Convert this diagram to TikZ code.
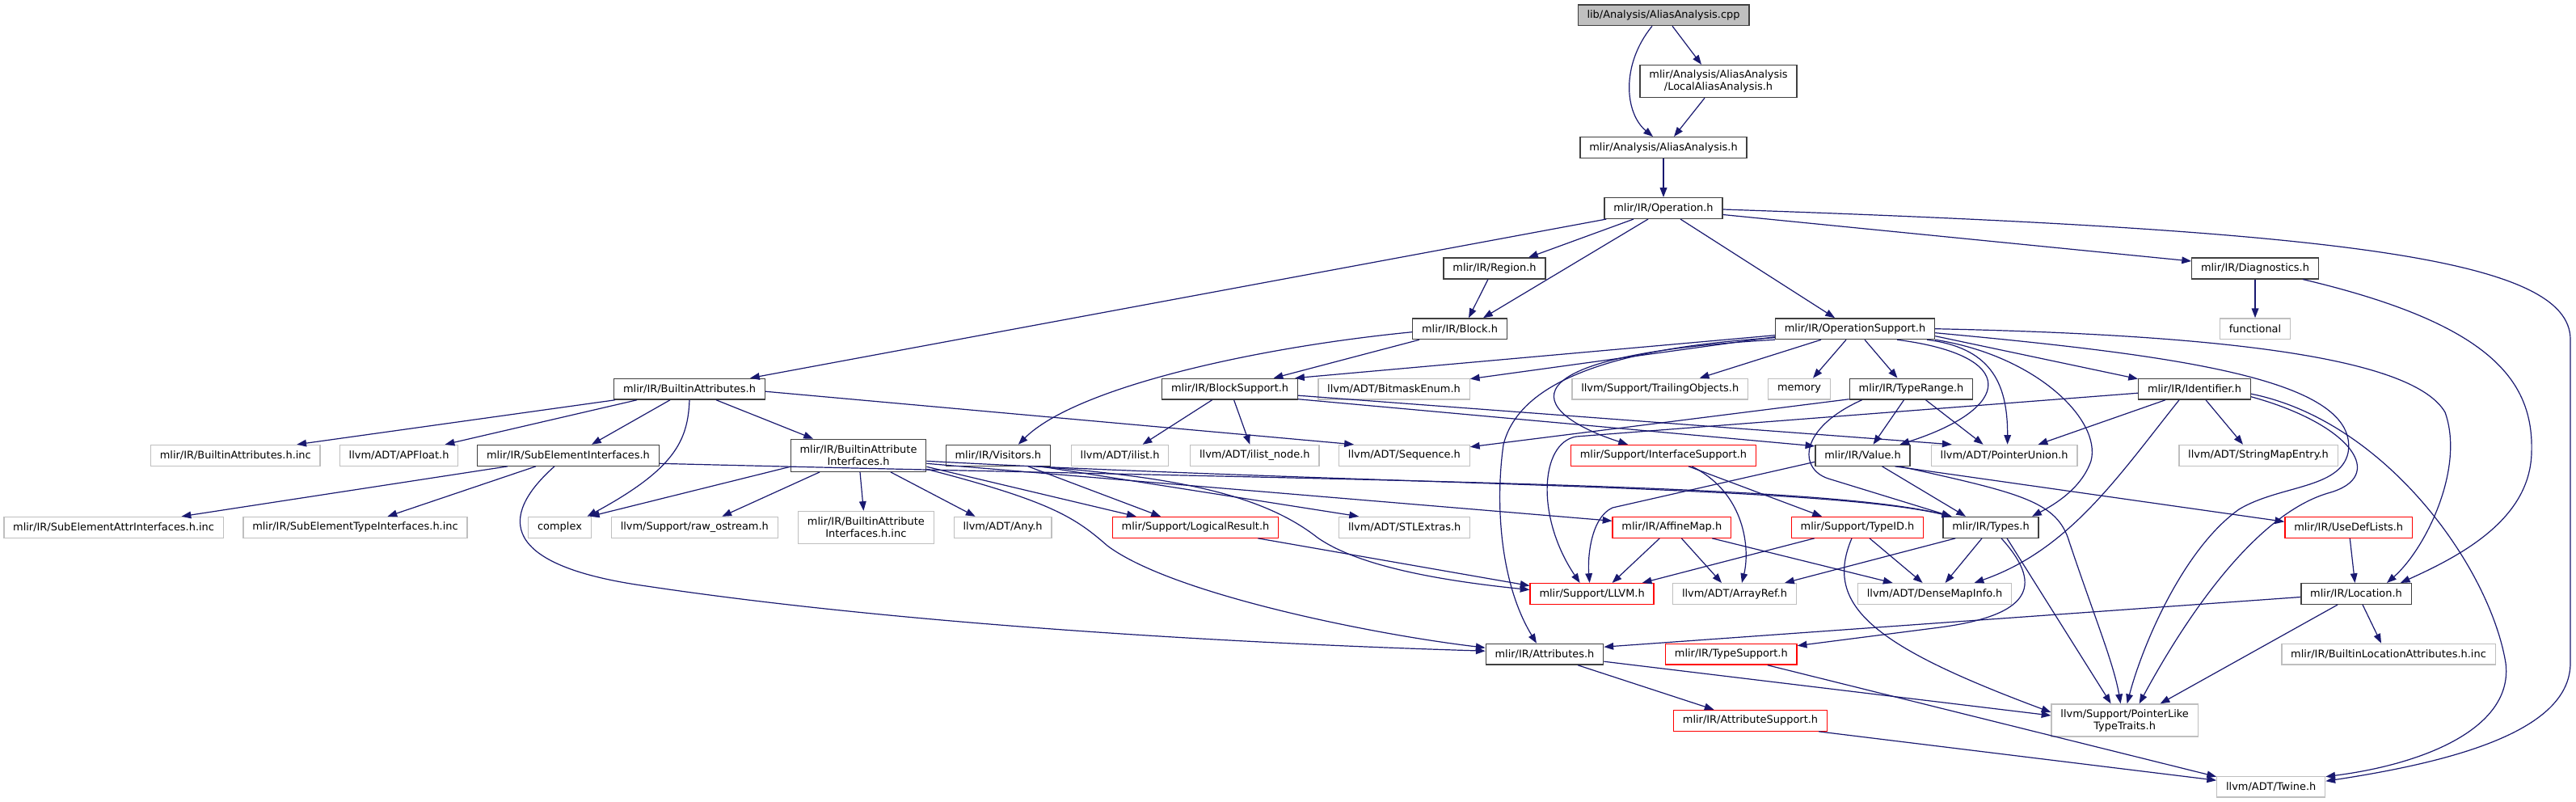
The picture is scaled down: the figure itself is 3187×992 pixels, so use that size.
\documentclass[tikz,border=0pt]{standalone}
\usepackage{fontspec}
\setmainfont{DejaVu Sans}
\usepackage{xcolor}
\usetikzlibrary{arrows.meta, calc}

\definecolor{edgeblue}{HTML}{191970}
\definecolor{boxgray}{HTML}{BFBFBF}
\definecolor{boxdark}{HTML}{404040}
\definecolor{boxred}{HTML}{FF0000}

\begin{document}
\begin{tikzpicture}[x=0.75pt, y=-0.75pt, >={Triangle[length=8.8pt, width=6.5pt]},
  every node/.style={font=\fontsize{9.7}{11.2}\selectfont, inner xsep=8.5pt, inner ysep=1pt, minimum height=19.3pt, line width=1pt, fill=white},
  hdr/.style={draw=boxdark},
  ext/.style={draw=boxgray},
  trunc/.style={draw=boxred},
  twoline/.style={align=center, minimum height=30pt},
  dep/.style={->, draw=edgeblue, line width=0.9pt}]
  \path[use as bounding box, fill=white] (0,0) rectangle (3187,992);

  % files, rank by rank
  \node[hdr, fill=boxgray] (cpp) at (2058,18.7) {lib/Analysis/AliasAnalysis.cpp};
  \node[hdr, twoline] (localaa) at (2126,100.5) {mlir/Analysis/AliasAnalysis\\/LocalAliasAnalysis.h};
  \node[hdr] (aah) at (2058,182.5) {mlir/Analysis/AliasAnalysis.h};
  \node[hdr] (operation) at (2058,257.5) {mlir/IR/Operation.h};
  \node[hdr] (region) at (1849,332) {mlir/IR/Region.h};
  \node[hdr] (diagnostics) at (2790,332) {mlir/IR/Diagnostics.h};
  \node[hdr] (block) at (1806,406.7) {mlir/IR/Block.h};
  \node[hdr] (opsupport) at (2295,406.7) {mlir/IR/OperationSupport.h};
  \node[ext] (functional) at (2790,406.7) {functional};

  \node[hdr] (builtinattr) at (853,481.2) {mlir/IR/BuiltinAttributes.h};
  \node[hdr] (blocksupport) at (1521.6,481.2) {mlir/IR/BlockSupport.h};
  \node[ext] (bitmask) at (1724.5,481.2) {llvm/ADT/BitmaskEnum.h};
  \node[ext] (trailing) at (2053.7,481.2) {llvm/Support/TrailingObjects.h};
  \node[ext] (memory) at (2226,481.2) {memory};
  \node[hdr] (typerange) at (2364.5,481.2) {mlir/IR/TypeRange.h};
  \node[hdr] (identifier) at (2715,481.2) {mlir/IR/Identifier.h};

  \node[ext] (builtinattrinc) at (291.3,563.3) {mlir/IR/BuiltinAttributes.h.inc};
  \node[ext] (apfloat) at (493.6,563.3) {llvm/ADT/APFloat.h};
  \node[hdr] (subelem) at (703,563.3) {mlir/IR/SubElementInterfaces.h};
  \node[hdr, twoline] (attrinterf) at (1062,563.3) {mlir/IR/BuiltinAttribute\\Interfaces.h};
  \node[hdr] (visitors) at (1234.8,563.3) {mlir/IR/Visitors.h};
  \node[ext] (ilist) at (1385.6,563.3) {llvm/ADT/ilist.h};
  \node[ext] (ilistnode) at (1552.3,563.3) {llvm/ADT/ilist\_node.h};
  \node[ext] (sequence) at (1737.4,563.3) {llvm/ADT/Sequence.h};
  \node[trunc] (ifacesupport) at (2058,563.3) {mlir/Support/InterfaceSupport.h};
  \node[hdr] (value) at (2304.5,563.3) {mlir/IR/Value.h};
  \node[ext] (ptrunion) at (2479.6,563.3) {llvm/ADT/PointerUnion.h};
  \node[ext] (stringmap) at (2794,563.3) {llvm/ADT/StringMapEntry.h};

  \node[ext] (subattrinc) at (140.6,652.3) {mlir/IR/SubElementAttrInterfaces.h.inc};
  \node[ext] (subtypeinc) at (439.5,652.3) {mlir/IR/SubElementTypeInterfaces.h.inc};
  \node[ext] (complex) at (692.5,652.3) {complex};
  \node[ext] (rawostream) at (859.3,652.3) {llvm/Support/raw\_ostream.h};
  \node[ext, twoline] (attrinterfinc) at (1071.4,652.5) {mlir/IR/BuiltinAttribute\\Interfaces.h.inc};
  \node[ext] (any) at (1240.6,652.3) {llvm/ADT/Any.h};
  \node[trunc] (logical) at (1479,652.3) {mlir/Support/LogicalResult.h};
  \node[ext] (stlextras) at (1737.7,652.3) {llvm/ADT/STLExtras.h};
  \node[trunc] (affinemap) at (2068.3,652.3) {mlir/IR/AffineMap.h};
  \node[trunc] (typeid) at (2298,652.3) {mlir/Support/TypeID.h};
  \node[hdr] (types) at (2463,652.3) {mlir/IR/Types.h};
  \node[trunc] (usedef) at (2905.7,652.3) {mlir/IR/UseDefLists.h};

  \node[trunc] (llvm) at (1969.6,734.5) {mlir/Support/LLVM.h};
  \node[ext] (arrayref) at (2146,734.5) {llvm/ADT/ArrayRef.h};
  \node[ext] (densemap) at (2393.6,734.5) {llvm/ADT/DenseMapInfo.h};
  \node[hdr] (location) at (2915,734.5) {mlir/IR/Location.h};

  \node[hdr] (attributes) at (1911,809.2) {mlir/IR/Attributes.h};
  \node[trunc] (typesupport) at (2141.8,809.2) {mlir/IR/TypeSupport.h};
  \node[ext] (builtinloc) at (2955,809.2) {mlir/IR/BuiltinLocationAttributes.h.inc};

  \node[trunc] (attrsupport) at (2165.5,891.3) {mlir/IR/AttributeSupport.h};
  \node[ext, twoline] (ptrlike) at (2628.6,891) {llvm/Support/PointerLike\\TypeTraits.h};
  \node[ext] (twine) at (2809.7,973.2) {llvm/ADT/Twine.h};

  % top of the graph
  \draw[dep] ($(cpp.south)+(-14,0)$) .. controls (2005,80) and (2010,140) .. ($(aah.north)+(-13,0)$);
  \draw[dep] ($(cpp.south)+(11,0)$) -- ($(localaa.north)+(-21,0)$);
  \draw[dep] ($(localaa.south)+(-17,0)$) -- ($(aah.north)+(13,0)$);
  \draw[dep] (aah) -- (operation);
  \draw[dep] ($(operation.south west)+(3,0)$) -- ($(builtinattr.north)+(75,0)$);
  \draw[dep] ($(operation.south)+(-37,0)$) -- ($(region.north)+(42,0)$);
  \draw[dep] ($(operation.south)+(-19,0)$) -- ($(block.north)+(29,0)$);
  \draw[dep] ($(operation.south)+(21,0)$) -- ($(opsupport.north)+(-25,0)$);
  \draw[dep] ($(operation.east)+(0,8)$) -- ($(diagnostics.west)+(0,-9)$);
  \draw[dep] ($(operation.east)+(0,1.5)$) .. controls (2900,285) and (3180,320) .. (3180,420) -- (3180,820) .. controls (3180,900) and (3050,940) .. ($(twine.east)+(0,-7)$);
  \draw[dep] ($(region.south)+(-8,0)$) -- ($(block.north)+(11,0)$);
  \draw[dep] (diagnostics) -- (functional);
  \draw[dep] ($(diagnostics.south)+(59,0)$) .. controls (3080,400) and (3135,470) .. (3132,560) .. controls (3130,640) and (3050,685) .. ($(location.north east)+(-14,0)$);
  \draw[dep] ($(block.south)+(-50,0)$) -- ($(blocksupport.north)+(54,0)$);
  \draw[dep] ($(block.west)+(0,4)$) .. controls (1550,430) and (1330,480) .. ($(visitors.north)+(25,0)$);

  % builtin attributes
  \draw[dep] ($(builtinattr.south west)+(2,0)$) -- ($(builtinattrinc.north)+(76,0)$);
  \draw[dep] ($(builtinattr.south)+(-65,0)$) -- ($(apfloat.north)+(57,0)$);
  \draw[dep] ($(builtinattr.south)+(-24,0)$) -- ($(subelem.north)+(29,0)$);
  \draw[dep] (builtinattr.south) .. controls (851,545) and (835,580) .. ($(complex.north)+(34,0)$);
  \draw[dep] ($(builtinattr.south)+(33,0)$) -- ($(attrinterf.north)+(-56,0)$);
  \draw[dep] ($(builtinattr.east)+(0,3)$) -- ($(sequence.north west)+(19,0)$);
  \draw[dep] ($(subelem.south)+(-75,0)$) -- ($(subattrinc.north)+(84,0)$);
  \draw[dep] ($(subelem.south)+(-40,0)$) -- ($(subtypeinc.north)+(40,0)$);
  \draw[dep] ($(subelem.south)+(-17,0)$) .. controls (615,640) and (620,700) .. (800,725) .. controls (1100,770) and (1500,795) .. ($(attributes.west)+(0,-4)$);
  \draw[dep] ($(subelem.east)+(0,10)$) .. controls (1700,595) and (2250,598) .. ($(types.north west)+(11,0)$);
  \draw[dep] ($(attrinterf.west)+(0,14)$) -- ($(complex.north east)+(-2,0)$);
  \draw[dep] ($(attrinterf.south)+(-48,0)$) -- ($(rawostream.north)+(34,0)$);
  \draw[dep] ($(attrinterf.south)+(2,0)$) -- ($(attrinterfinc.north)+(-3,0)$);
  \draw[dep] ($(attrinterf.south)+(40,0)$) -- ($(any.north)+(-34,0)$);
  \draw[dep] ($(attrinterf.east)+(0,14)$) -- ($(logical.north west)+(30,0)$);
  \draw[dep] ($(attrinterf.east)+(0,17)$) .. controls (1300,620) and (1330,640) .. (1370,675) .. controls (1450,735) and (1700,785) .. ($(attributes.west)+(0,-8)$);
  \draw[dep] ($(attrinterf.east)+(0,10)$) -- ($(affinemap.west)+(0,-8)$);
  \draw[dep] ($(attrinterf.east)+(0,7)$) .. controls (1700,600) and (2250,600) .. ($(types.north west)+(11,0)$);

  % visitors, block support
  \draw[dep] ($(visitors.south)+(37,0)$) -- ($(logical.north)+(-43,0)$);
  \draw[dep] ($(visitors.south)+(47,0)$) .. controls (1450,590) and (1560,610) .. (1630,665) .. controls (1680,700) and (1780,718) .. ($(llvm.west)+(0,-5)$);
  \draw[dep] ($(visitors.south)+(52,0)$) -- ($(stlextras.north west)+(25,0)$);
  \draw[dep] ($(logical.south east)+(-26,0)$) -- ($(llvm.west)+(0,-10)$);
  \draw[dep] ($(blocksupport.south)+(-22,0)$) -- ($(ilist.north)+(28,0)$);
  \draw[dep] ($(blocksupport.south)+(5,0)$) -- ($(ilistnode.north)+(-6,0)$);
  \draw[dep] ($(blocksupport.south east)+(0,-1)$) -- ($(value.north west)+(0,2)$);
  \draw[dep] ($(blocksupport.east)+(0,8)$) -- ($(ptrunion.north west)+(26,0)$);

  % operation support
  \draw[dep] ($(opsupport.west)+(0,8)$) -- ($(blocksupport.north east)+(-4,0)$);
  \draw[dep] ($(opsupport.west)+(0,10)$) -- ($(bitmask.north east)+(0,1)$);
  \draw[dep] ($(opsupport.west)+(0,11)$) .. controls (2000,430) and (1880,470) .. (1860,550) .. controls (1850,620) and (1855,720) .. ($(attributes.north)+(-10,0)$);
  \draw[dep] (opsupport.south west) .. controls (1850,440) and (1890,510) .. ($(ifacesupport.north)+(-44,0)$);
  \draw[dep] ($(opsupport.south)+(-42,0)$) -- ($(trailing.north)+(49,0)$);
  \draw[dep] ($(opsupport.south)+(-11,0)$) -- ($(memory.north)+(17,0)$);
  \draw[dep] ($(opsupport.south)+(12,0)$) -- ($(typerange.north)+(-17,0)$);
  \draw[dep] ($(opsupport.south east)+(-47,0)$) .. controls (2500,440) and (2490,505) .. ($(value.north)+(46,0)$);
  \draw[dep] ($(opsupport.south east)+(-10,0)$) .. controls (2460,430) and (2484,470) .. ($(ptrunion.north)+(4,0)$);
  \draw[dep] (opsupport.south east) .. controls (2520,440) and (2600,520) .. (2587,570) .. controls (2575,605) and (2540,625) .. ($(types.north)+(51,0)$);
  \draw[dep] ($(opsupport.east)+(0,9)$) -- ($(identifier.north west)+(0,1)$);
  \draw[dep] ($(opsupport.east)+(0,5)$) .. controls (2700,440) and (2920,470) .. (2905,560) .. controls (2895,605) and (2820,600) .. (2770,630) .. controls (2700,680) and (2650,800) .. ($(ptrlike.north)+(3,0)$);
  \draw[dep] (opsupport.east) .. controls (2800,415) and (2990,450) .. (3025,510) .. controls (3050,580) and (3000,680) .. ($(location.north)+(38,0)$);

  % type range, identifier
  \draw[dep] ($(typerange.south west)+(0,-1)$) -- ($(sequence.north east)+(0,3)$);
  \draw[dep] ($(typerange.south)+(-9,0)$) -- ($(value.north)+(13,0)$);
  \draw[dep] ($(typerange.south)+(18,0)$) -- ($(ptrunion.north)+(-26,0)$);
  \draw[dep] ($(typerange.south)+(-61,0)$) .. controls (2225,530) and (2225,580) .. (2262,592) -- ($(types.north west)+(11,0)$);
  \draw[dep] ($(identifier.west)+(0,5)$) -- (1950,540) .. controls (1905,548) and (1900,640) .. ($(llvm.north)+(-15,0)$);
  \draw[dep] ($(identifier.south)+(-36,0)$) -- ($(ptrunion.north)+(42,0)$);
  \draw[dep] ($(identifier.south)+(-19,0)$) .. controls (2620,590) and (2560,680) .. ($(densemap.north)+(49,0)$);
  \draw[dep] ($(identifier.south)+(14,0)$) -- ($(stringmap.north)+(-19,0)$);
  \draw[dep] ($(identifier.south east)+(0,-4)$) .. controls (2910,525) and (2955,590) .. (2880,610) .. controls (2780,640) and (2690,790) .. ($(ptrlike.north)+(18,0)$);
  \draw[dep] ($(identifier.east)+(0,6)$) .. controls (2950,520) and (3080,700) .. (3100,820) .. controls (3110,900) and (3000,945) .. ($(twine.north east)+(0,1)$);

  % interface support, value
  \draw[dep] ($(ifacesupport.south)+(31,0)$) -- ($(typeid.north)+(-44,0)$);
  \draw[dep] ($(ifacesupport.south)+(35,0)$) .. controls (2160,610) and (2165,680) .. ($(arrayref.north)+(9,0)$);
  \draw[dep] ($(value.west)+(0,8)$) -- (1995,628) .. controls (1968,640) and (1964,690) .. ($(llvm.north)+(-3,0)$);
  \draw[dep] ($(value.south)+(24,0)$) -- ($(types.north)+(-31,0)$);
  \draw[dep] ($(value.south)+(40,0)$) -- ($(usedef.west)+(0,-7)$);
  \draw[dep] ($(value.south)+(46,0)$) .. controls (2500,610) and (2545,620) .. (2560,670) .. controls (2590,760) and (2615,820) .. ($(ptrlike.north)+(-5,0)$);

  % affine map, type id, types
  \draw[dep] ($(affinemap.south)+(-15,0)$) -- ($(llvm.north)+(25,0)$);
  \draw[dep] ($(affinemap.south)+(12,0)$) -- ($(arrayref.north)+(-16,0)$);
  \draw[dep] ($(affinemap.south east)+(-24,0)$) -- ($(densemap.north)+(-52,0)$);
  \draw[dep] ($(typeid.south west)+(29,0)$) -- ($(llvm.north east)+(-15,0)$);
  \draw[dep] ($(typeid.south)+(15,0)$) -- ($(densemap.north)+(-15,0)$);
  \draw[dep] ($(typeid.south)+(-7,0)$) .. controls (2255,750) and (2320,800) .. ($(ptrlike.west)+(0,-10)$);
  \draw[dep] ($(types.south west)+(16,0)$) -- ($(arrayref.north east)+(-15,0)$);
  \draw[dep] ($(types.south)+(-11,0)$) -- ($(densemap.north)+(13,0)$);
  \draw[dep] ($(types.south)+(13,0)$) .. controls (2525,720) and (2520,760) .. (2400,776) -- ($(typesupport.north east)+(0,3)$);
  \draw[dep] ($(types.south)+(20,0)$) -- ($(ptrlike.north)+(-17,0)$);

  % lower ranks
  \draw[dep] (usedef) -- (location);
  \draw[dep] ($(location.west)+(0,4)$) -- ($(attributes.east)+(0,-9)$);
  \draw[dep] ($(location.south)+(8,0)$) -- ($(builtinloc.north)+(-9,0)$);
  \draw[dep] ($(location.south)+(-23,0)$) -- ($(ptrlike.north)+(44,0)$);
  \draw[dep] ($(attributes.south)+(41,0)$) -- ($(attrsupport.north)+(-45,0)$);
  \draw[dep] ($(attributes.east)+(0,9)$) -- ($(ptrlike.west)+(0,-6)$);
  \draw[dep] ($(typesupport.south)+(45,0)$) -- ($(twine.north west)+(0,1)$);
  \draw[dep] ($(attrsupport.south east)+(-11,0)$) -- ($(twine.west)+(0,-8)$);
\end{tikzpicture}
\end{document}
